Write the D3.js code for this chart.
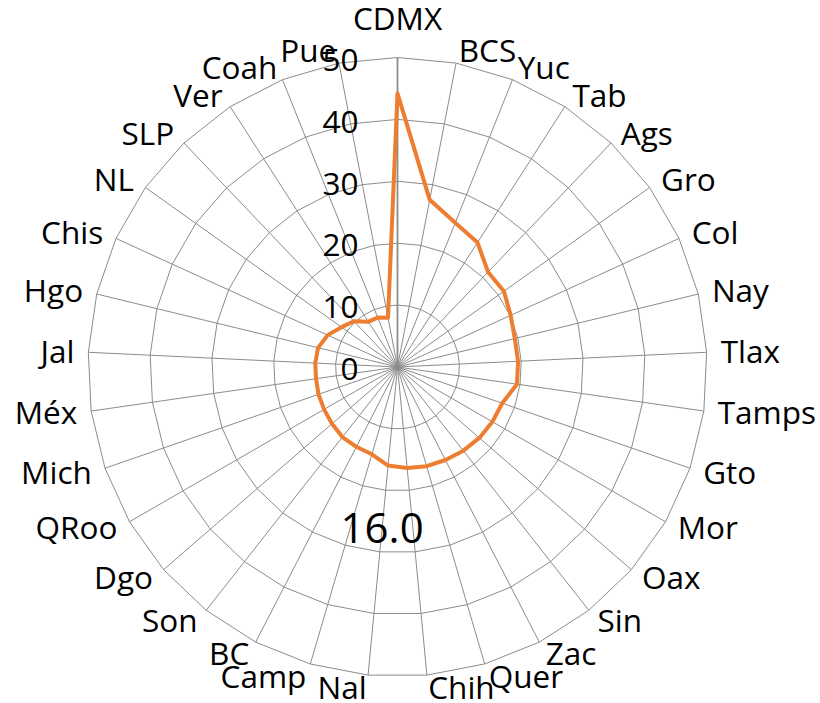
<!DOCTYPE html>
<html>
<head>
<meta charset="utf-8">
<script src="https://cdn.jsdelivr.net/npm/d3@7"></script>
<style>
  html, body { margin: 0; padding: 0; background: #fff; }
  svg { display: block; }
  text { font-family: "Open Sans", Lato, sans-serif; fill: #000; }
</style>
</head>
<body>
<div id="chart"></div>
<script>
// States, clockwise from the top, and their values
const categories = ["CDMX", "BCS", "Yuc", "Tab", "Ags", "Gro", "Col", "Nay", "Tlax", "Tamps",
  "Gto", "Mor", "Oax", "Sin", "Zac", "Quer", "Chih", "Nal", "Camp", "BC", "Son", "Dgo",
  "QRoo", "Mich", "Méx", "Jal", "Hgo", "Chis", "NL", "SLP", "Ver", "Coah", "Pue"];
const values = [44.2, 27.5, 25.1, 23.9, 21.2, 21.1, 20.1, 19.5, 19.5, 19.5,
  17.9, 17.7, 17.5, 17.2, 16.9, 16.7, 16.4, 16.0, 14.7, 14.5, 14.4, 14.0,
  13.7, 13.5, 13.3, 13.3, 13.2, 12.4, 11.1, 10.2, 8.7, 8.6, 8.1];
const tickValues = [0, 10, 20, 30, 40, 50];
const labelledCategory = "Nal";

const width = 820, height = 703;
const cx = 397.5, cy = 367, outerR = 309.5;
const fontSize = 31.5;
const capHalf = 0.357 * fontSize;

const svg = d3.select("#chart").append("svg")
  .attr("width", width).attr("height", height);

const g = svg.append("g").attr("transform", `translate(${cx},${cy})`);

const n = categories.length;
const angle = d3.scaleLinear().domain([0, n]).range([0, 2 * Math.PI]);
const r = d3.scaleLinear().domain([0, 50]).range([0, outerR]);

// Grid rings as polygons
const ringLine = d3.lineRadial()
  .angle((d, i) => angle(i))
  .radius(d => r(d))
  .curve(d3.curveLinearClosed);

g.selectAll("path.ring")
  .data(tickValues.filter(t => t > 0))
  .join("path")
  .attr("class", "ring")
  .attr("d", t => ringLine(categories.map(() => t)))
  .attr("fill", "none")
  .attr("stroke", "#8c8c8c")
  .attr("stroke-width", 1);

// Spokes
g.selectAll("line.spoke")
  .data(categories)
  .join("line")
  .attr("class", "spoke")
  .attr("x1", 0).attr("y1", 0)
  .attr("x2", (d, i) => r(50) * Math.sin(angle(i)))
  .attr("y2", (d, i) => -r(50) * Math.cos(angle(i)))
  .attr("stroke", "#8c8c8c")
  .attr("stroke-width", (d, i) => i === 0 ? 1.8 : 1);

// Value axis labels
g.selectAll("text.tick")
  .data(tickValues)
  .join("text")
  .attr("class", "tick")
  .attr("x", -39)
  .attr("y", t => -r(t) + 2 + capHalf)
  .attr("text-anchor", "end")
  .attr("font-size", fontSize)
  .text(t => t);

// Data series
const seriesLine = d3.lineRadial()
  .angle((d, i) => angle(i))
  .radius(d => r(d))
  .curve(d3.curveLinearClosed);

g.append("path")
  .attr("d", seriesLine(values))
  .attr("fill", "none")
  .attr("stroke", "#ED7D31")
  .attr("stroke-width", 4)
  .attr("stroke-linejoin", "round");

// Category labels around the outside
g.selectAll("text.cat")
  .data(categories)
  .join("text")
  .attr("class", "cat")
  .attr("font-size", fontSize)
  .each(function (d, i) {
    const a = angle(i);
    const s = Math.sin(a), c = Math.cos(a);
    const px = outerR * s, py = -outerR * c;
    const t = d3.select(this);
    if (Math.abs(s) < 0.02) {
      t.attr("text-anchor", "middle")
        .attr("x", px)
        .attr("y", py - 39 + capHalf);
    } else {
      t.attr("text-anchor", s > 0 ? "start" : "end")
        .attr("x", px + Math.sign(s) * (14 * Math.abs(s)))
        .attr("y", py - 13 * c + capHalf);
    }
  })
  .text(d => d);

// Value label for the national figure
const li = categories.indexOf(labelledCategory);
const la = angle(li);
const ld = r(values[li]) + 63;
g.append("text")
  .attr("x", ld * Math.sin(la))
  .attr("y", -ld * Math.cos(la) + 0.357 * 42)
  .attr("text-anchor", "middle")
  .attr("font-size", 42)
  .text(d3.format(".1f")(values[li]));
</script>
</body>
</html>
